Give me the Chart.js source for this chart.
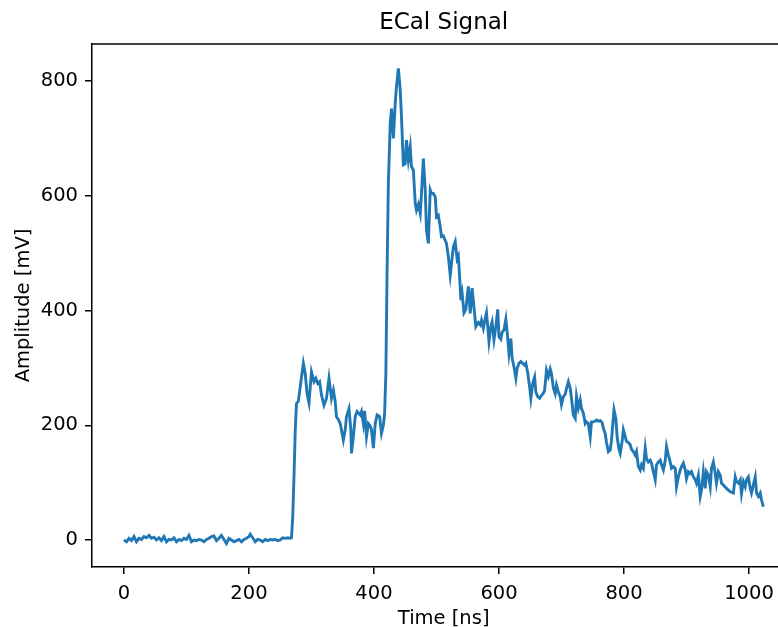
<!DOCTYPE html>
<html><head><meta charset="utf-8">
<script src="https://cdn.jsdelivr.net/npm/chart.js@4"></script>
<style>
html,body{margin:0;padding:0;overflow:hidden;background:#fff}
canvas{display:block}
</style></head>
<body><canvas id="c" width="778" height="627"></canvas>
<script>
const timeNs = [0,4,8,12,16,20,24,28,32,36,40,44,48,52,56,60,64,68,72,76,80,84,88,92,96,100,104,108,112,116,120,124,128,132,136,140,144,148,152,156,160,164,168,172,176,180,184,188,192,196,200,202,206,210,214,218,222,226,230,234,238,242,246,250,254,258,262,266,268,
270,272,274,276,279,283,287,290,293,296,300,304,307,310,313,316,320,324,328,332,335,338,340,343,346,348,351,354,356,360,363,364,367,370,373,378,380,383,385,388,391,394,396,399,402,405,409,412,415,417,419,421,423,426,428,431,434,436,439,442,444,447,450,452,455,458,460,463,466,468,471,474,476,479,482,484,487,490,492,495,498,500,503,506,508,511,514,516,519,522,524,527,530,533,535,538,539,541,544,547,551,554,557,560,563,567,570,572,575,578,580,582,584,587,589,592,595,598,600,603,605,608,611,613,616,619,621,624,627,629,632,635,638,641,643,646,649,651,654,657,659,662,665,668,671,673,676,679,682,684,687,690,692,695,698,700,703,706,708,711,714,716,719,722,724,727,730,732,735,738,740,743,746,748,751,754,756,759,762,765,767,770,772,775,778,780,784,787,789,792,794,797,799,802,804,807,810,812,815,818,820,823,826,828,831,834,836,839,842,844,847,850,852,855,858,860,863,866,868,871,874,876,879,882,884,887,890,892,895,898,900,903,906,908,911,914,916,919,922,924,927,930,932,935,938,940,943,946,948,951,954,956,959,964,970,975,978,980,983,986,988,991,994,996,999,1002,1004,1007,1010,1012,1015,1018,1020,1023];
const amplitudeMv = [0,-3,3,-1,6,-3,3,1,6,4,8,3,5,0,4,-1,6,-3,1,0,4,-3,1,-1,3,1,8,-3,0,-1,1,0,-3,1,3,6,7,-1,3,8,1,-6,3,0,-3,-1,1,-3,1,3,6,10,4,-3,1,0,-3,1,-1,1,0,1,-1,0,4,3,4,3,4,
40,110,190,238,242,275,308,290,255,239,293,276,282,273,276,253,235,247,282,247,261,241,215,210,203,192,174,192,215,229,192,151,180,215,224,218,224,203,225,180,203,199,192,160,203,218,215,186,200,220,290,470,622,726,752,700,761,790,822,784,738,654,656,697,662,685,651,645,587,575,585,569,604,665,610,540,517,610,604,604,598,563,566,546,529,530,522,517,494,462,482,511,520,490,495,440,418,430,396,402,442,395,439,405,372,379,375,383,369,386,396,372,346,372,380,349,372,402,354,350,362,366,385,364,325,351,317,302,282,299,308,311,308,305,308,291,267,247,273,284,258,250,247,252,256,261,296,285,298,290,265,255,270,258,250,236,250,254,264,276,264,247,218,212,250,230,244,229,221,203,206,203,180,206,206,207,209,207,208,205,195,185,170,154,157,174,227,212,180,158,151,172,192,180,172,170,166,158,154,148,154,128,122,131,125,160,142,136,139,134,119,105,131,136,139,131,122,139,163,148,136,125,128,125,93,110,122,128,134,122,107,119,116,119,110,105,99,113,76,87,119,90,119,113,93,125,136,116,99,119,113,99,96,90,84,82,110,102,99,105,81,102,93,105,110,90,82,96,110,82,76,82,70,58];
const xTicks = [0,200,400,600,800,1000];
const yTicks = [0,200,400,600,800];
const titleText = 'ECal Signal';
const xLabel = 'Time [ns]';
const yLabel = 'Amplitude [mV]';

const points = timeNs.map((t,i)=>({x:t,y:amplitudeMv[i]}));
const FONT = 'DejaVu Sans';
// full axes span (the original figure is cropped at the right edge)
const X_MIN = -51.15, X_FULL_MAX = 1074.15, X_VISIBLE_MAX = 1046.4;

const frame = {
  id:'frame',
  afterDraw(chart){
    const {ctx, chartArea:a, scales} = chart;
    ctx.save();
    ctx.strokeStyle='#000'; ctx.lineWidth=1.5;
    ctx.beginPath();
    ctx.moveTo(a.left, a.top); ctx.lineTo(a.right, a.top);
    ctx.stroke();
    // title and x label centred over the full (uncropped) axes
    const xl = scales.x.getPixelForValue(X_MIN), xr = scales.x.getPixelForValue(X_FULL_MAX);
    const cx = (xl+xr)/2;
    ctx.fillStyle='#000';
    ctx.textAlign='center'; ctx.textBaseline='middle';
    ctx.font = '23px "' + FONT + '"';
    ctx.fillText(titleText, cx, 23.5);
    ctx.font = '19.5px "' + FONT + '"';
    ctx.fillText(xLabel, cx, 618.5);
    ctx.restore();
  }
};

new Chart(document.getElementById('c'), {
  type:'scatter',
  data:{datasets:[{data:points, showLine:true, borderColor:'#1f77b4', borderWidth:2.9, pointRadius:0, tension:0, fill:false}]},
  options:{
    responsive:false, animation:false, devicePixelRatio:1,
    layout:{autoPadding:false, padding:{left:0,top:44,right:0,bottom:0}},
    plugins:{
      legend:{display:false}, tooltip:{enabled:false}, title:{display:false}
    },
    scales:{
      x:{type:'linear', min:X_MIN, max:X_VISIBLE_MAX,
        afterBuildTicks:s=>{s.ticks=xTicks.map(v=>({value:v}));},
        afterFit:s=>{s.height=60; s.paddingLeft=0; s.paddingRight=0;},
        ticks:{color:'#000', font:{family:FONT,size:19.5}, padding:8.5, maxRotation:0, autoSkip:false, callback:v=>String(v)},
        grid:{display:true, drawOnChartArea:false, drawTicks:true, tickLength:7, color:'#000', lineWidth:1.5},
        border:{display:true, color:'#000', width:1.5},
        title:{display:false}
      },
      y:{type:'linear', min:-47, max:864.5,
        afterBuildTicks:s=>{s.ticks=yTicks.map(v=>({value:v}));},
        afterFit:s=>{s.width=92; s.paddingTop=0; s.paddingBottom=0;},
        ticks:{color:'#000', font:{family:FONT,size:19.5}, padding:7, autoSkip:false, callback:v=>String(v)},
        grid:{display:true, drawOnChartArea:false, drawTicks:true, tickLength:7, color:'#000', lineWidth:1.5},
        border:{display:true, color:'#000', width:1.5},
        title:{display:true, text:yLabel, color:'#000', font:{family:FONT,size:19.5,lineHeight:1}, padding:{top:14,bottom:0}}
      }
    }
  },
  plugins:[frame]
});
</script>
</body></html>
